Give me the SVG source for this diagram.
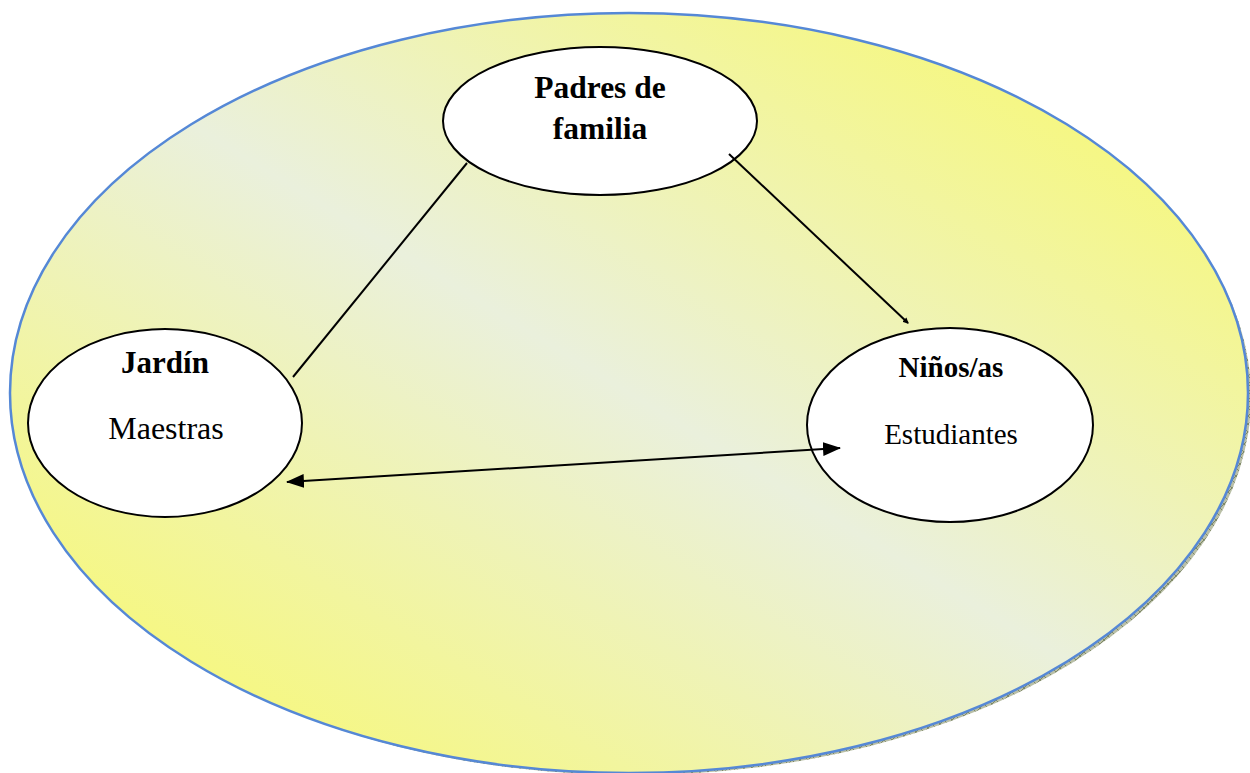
<svg xmlns="http://www.w3.org/2000/svg" width="1250" height="773" viewBox="0 0 1250 773">
<style>
.node{fill:#ffffff;stroke:#000000;stroke-width:2}
.conn{stroke:#000000;stroke-width:2;fill:none}
.b{font-family:"Liberation Serif","Times New Roman",serif;font-weight:bold;fill:#000;text-anchor:middle}
.r{font-family:"Liberation Serif","Times New Roman",serif;fill:#000;text-anchor:middle}
</style>
<defs>
<linearGradient id="bg" x1="1" y1="0" x2="0" y2="1">
<stop offset="0" stop-color="#FAFA60"/>
<stop offset="0.5" stop-color="#EAF0DC"/>
<stop offset="1" stop-color="#FAFA60"/>
</linearGradient>
<pattern id="hatch" width="8" height="8" patternUnits="userSpaceOnUse">
<rect width="8" height="8" fill="#B9BFA6"/>
<path d="M0,0L8,8M8,0L0,8" stroke="#6E7A55" stroke-width="0.8"/>
</pattern>
<marker id="ah" markerWidth="6" markerHeight="6" refX="5" refY="3" orient="auto" markerUnits="userSpaceOnUse" viewBox="0 0 6 6">
<path d="M0,0L6,3L0,6z" fill="#000"/>
</marker>
<marker id="ahS" markerWidth="18" markerHeight="14" refX="17" refY="7" orient="auto-start-reverse" markerUnits="userSpaceOnUse" viewBox="0 0 18 14">
<path d="M0,0L18,7L0,14z" fill="#000"/>
</marker>
</defs>
<g id="background">
<ellipse cx="633" cy="397" rx="618" ry="378" fill="url(#hatch)"/>
<ellipse cx="629" cy="393" rx="619" ry="380" fill="url(#bg)" stroke="#5588D6" stroke-width="2.5"/>
</g>
<g id="padres">
<ellipse class="node" cx="600" cy="121" rx="157" ry="74"/>
<text class="b" x="600" y="98" font-size="31.5">Padres de</text>
<text class="b" x="600" y="139" font-size="31.5">familia</text>
</g>
<g id="jardin">
<ellipse class="node" cx="165" cy="423" rx="137" ry="94"/>
<text class="b" x="165" y="373" font-size="31">Jardín</text>
<text class="r" x="166" y="439" font-size="32">Maestras</text>
</g>
<g id="ninos">
<ellipse class="node" cx="950" cy="425" rx="143" ry="97"/>
<text class="b" x="951" y="377" font-size="29">Niños/as</text>
<text class="r" x="951" y="444" font-size="29">Estudiantes</text>
</g>
<g id="connectors">
<line class="conn" x1="467" y1="163" x2="293" y2="377"/>
<line class="conn" x1="729" y1="154" x2="908" y2="323" marker-end="url(#ah)"/>
<line class="conn" x1="287" y1="482" x2="840" y2="448" marker-start="url(#ahS)" marker-end="url(#ahS)"/>
</g>
</svg>
